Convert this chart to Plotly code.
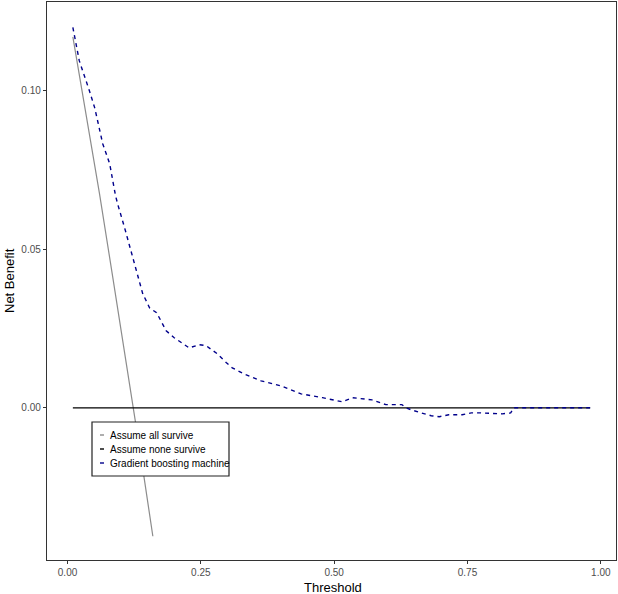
import plotly.graph_objects as go

# decision curve values
all_threshold = [0.01, 0.035, 0.06, 0.085, 0.11, 0.124, 0.14, 0.16]
all_benefit = [0.117, 0.0925, 0.0675, 0.041, 0.0148, 0.0, -0.018, -0.0405]

none_threshold = [0.01, 0.98]
none_benefit = [0.0, 0.0]

gbm_threshold = [
    0.01, 0.022, 0.041, 0.051, 0.066, 0.079, 0.090, 0.094, 0.107, 0.120,
    0.129, 0.141, 0.154, 0.167, 0.185, 0.200, 0.228, 0.247, 0.260, 0.281,
    0.298, 0.309, 0.331, 0.363, 0.401, 0.438, 0.478, 0.515, 0.534, 0.571,
    0.597, 0.627, 0.635, 0.644, 0.663, 0.682, 0.697, 0.715, 0.740, 0.757,
    0.775, 0.815, 0.831, 0.837, 0.90, 0.98,
]
gbm_benefit = [
    0.120, 0.1095, 0.100, 0.0946, 0.0833, 0.077, 0.0669, 0.0643, 0.0568, 0.0486,
    0.0432, 0.036, 0.0315, 0.030, 0.0243, 0.0221, 0.0189, 0.0199, 0.0196, 0.017,
    0.0142, 0.0126, 0.0107, 0.0085, 0.0069, 0.0044, 0.0032, 0.0019, 0.0032, 0.0025,
    0.001, 0.001, 0.0, -0.0006, -0.0016, -0.0025, -0.0028, -0.0022, -0.0022, -0.0016,
    -0.0016, -0.0019, -0.0016, 0.0, 0.0, 0.0,
]

x_ticks = [0.0, 0.25, 0.5, 0.75, 1.0]
x_labels = ["0.00", "0.25", "0.50", "0.75", "1.00"]
y_ticks = [0.0, 0.05, 0.10]
y_labels = ["0.00", "0.05", "0.10"]

legend_names = ["Assume all survive", "Assume none survive", "Gradient boosting machine"]
legend_colors = ["#8c8c8c", "#000000", "#00008b"]

W, H = 618, 594
L, R, T, B = 47, 2, 2, 34


def px_x(x):
    return (x - L) / (W - L - R)


def px_y(y):
    return (H - B - y) / (H - T - B)


fig = go.Figure()
fig.add_trace(go.Scatter(x=all_threshold, y=all_benefit, mode="lines",
                         line=dict(color=legend_colors[0], width=1.2)))
fig.add_trace(go.Scatter(x=none_threshold, y=none_benefit, mode="lines",
                         line=dict(color=legend_colors[1], width=1.2)))
fig.add_trace(go.Scatter(x=gbm_threshold, y=gbm_benefit, mode="lines",
                         line=dict(color=legend_colors[2], width=1.4, dash="4px,4px")))

# hand drawn legend box, like the ggplot one
fig.add_shape(type="rect", xref="paper", yref="paper",
              x0=px_x(92), x1=px_x(229), y0=px_y(476), y1=px_y(422),
              line=dict(color="#222222", width=1.2), fillcolor="white", layer="above")
for i, (name, color) in enumerate(zip(legend_names, legend_colors)):
    row_y = 435 + i * 14
    fig.add_shape(type="line", xref="paper", yref="paper",
                  x0=px_x(100), x1=px_x(104), y0=px_y(row_y), y1=px_y(row_y),
                  line=dict(color=color, width=1.4), layer="above")
    fig.add_annotation(x=px_x(108), y=px_y(row_y), xref="paper", yref="paper",
                       text=name, showarrow=False, xanchor="left", yanchor="middle",
                       font=dict(size=10, color="#000000"))

# axis titles placed by hand so the margins stay tight
fig.add_annotation(x=px_x(333), y=px_y(587), xref="paper", yref="paper",
                   text="Threshold", showarrow=False, xanchor="center", yanchor="middle",
                   font=dict(size=13, color="#000000"))
fig.add_annotation(x=px_x(9), y=px_y(281), xref="paper", yref="paper",
                   text="Net Benefit", showarrow=False, textangle=-90,
                   xanchor="center", yanchor="middle",
                   font=dict(size=13, color="#000000"))

fig.update_layout(
    width=W,
    height=H,
    margin=dict(l=L, r=R, t=T, b=B),
    paper_bgcolor="white",
    plot_bgcolor="white",
    showlegend=False,
    font=dict(family="Liberation Sans, Arial, sans-serif", color="#000000"),
)
fig.update_xaxes(
    range=[-0.0385, 1.0285], tickvals=x_ticks, ticktext=x_labels,
    showgrid=False, zeroline=False, showline=True, mirror=True, automargin=False,
    linecolor="#333333", linewidth=1.4, ticks="outside", ticklen=3,
    tickcolor="#333333", tickfont=dict(size=10, color="#4d4d4d"),
)
fig.update_yaxes(
    range=[-0.048, 0.128], tickvals=y_ticks, ticktext=y_labels,
    showgrid=False, zeroline=False, showline=True, mirror=True, automargin=False,
    linecolor="#333333", linewidth=1.4, ticks="outside", ticklen=3,
    tickcolor="#333333", tickfont=dict(size=10, color="#4d4d4d"),
)

# the page body has a default 8px margin; drop it so the figure sits at the corner
fig.write_html(
    "out.html",
    config={"displayModeBar": False},
    post_script="document.body.style.margin='0';",
)
